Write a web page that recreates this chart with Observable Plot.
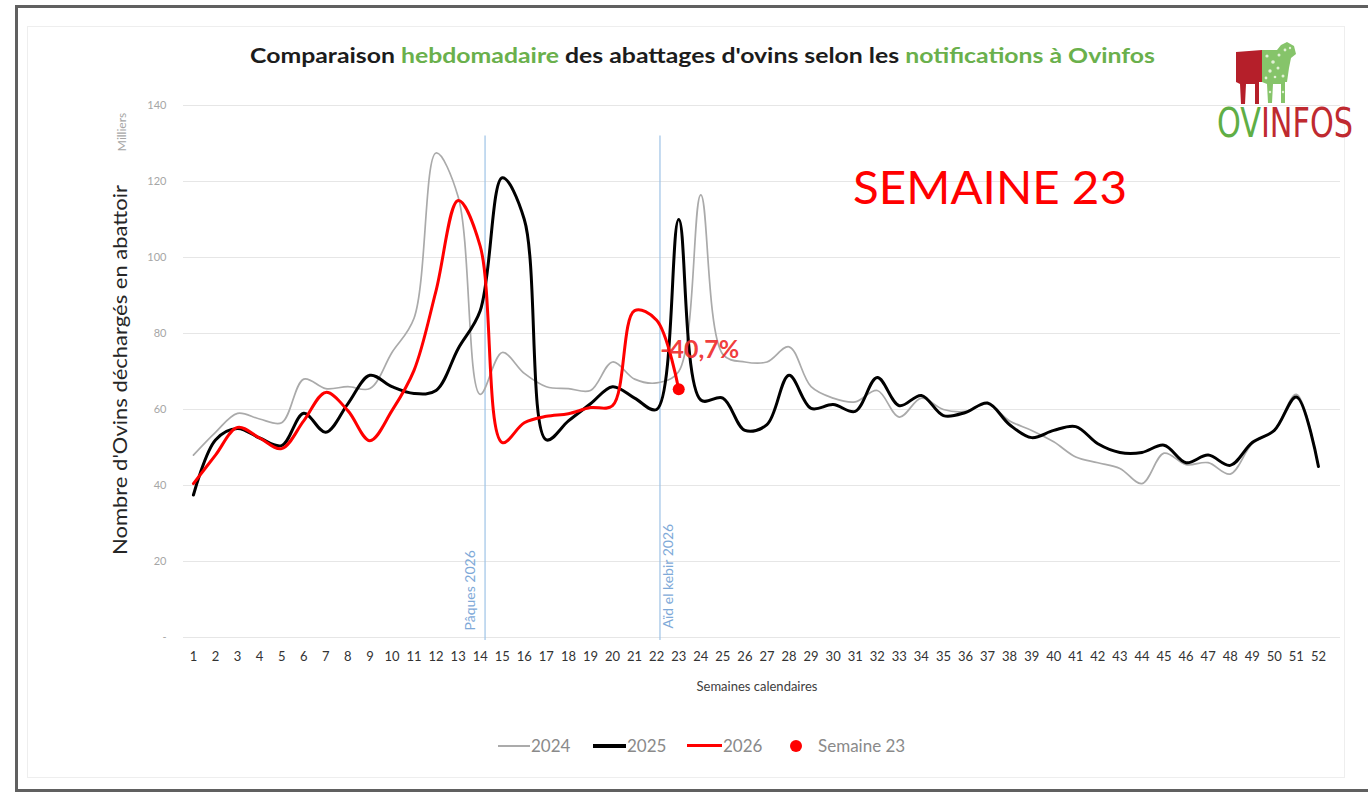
<!DOCTYPE html>
<html>
<head>
<meta charset="utf-8">
<script src="https://cdn.jsdelivr.net/npm/d3@7"></script>
<script src="https://cdn.jsdelivr.net/npm/@observablehq/plot@0.6"></script>
<style>
  html, body { margin: 0; padding: 0; background: #fff; }
  body { font-family: Lato, "Open Sans", sans-serif; }
  #page { position: relative; width: 1368px; height: 795px; overflow: hidden; background: #fff; }
  .frame-outer { position: absolute; left: 15px; top: 5px; width: 1400px; height: 787px; border: 3px solid #606060; box-sizing: border-box; }
  .frame-inner { position: absolute; left: 27px; top: 26px; width: 1318px; height: 752px; border: 1px solid #eeeeee; box-sizing: border-box; }
  #chart { position: absolute; left: 0; top: 0; }
  .abs { position: absolute; white-space: nowrap; }
  .title { left: 250px; top: 42px; font-size: 20px; font-weight: bold; color: #1c1c1c; line-height: 26px; transform-origin: left center; }
  .title .g { color: #6ab04c; }
  .semaine { left: 853px; top: 164px; font-size: 46px; line-height: 1; color: #ff0000; transform-origin: left center; }
  .ytitle { left: 120px; top: 370px; font-size: 19px; color: #262626; line-height: 22px; }
  .milliers { left: 121px; top: 132px; font-size: 12px; color: #a6a6a6; transform: translate(-50%, -50%) rotate(-90deg); }
  .xtitle { left: 757px; top: 686px; font-size: 13px; color: #404040; transform: translate(-50%, -50%); }
  .legend { font-size: 17px; color: #8a8a8a; line-height: 20px; }
  .sw { position: absolute; }
  .logo-text { left: 1217px; top: 103px; font-family: "DejaVu Sans Condensed", "DejaVu Sans", sans-serif; font-size: 40px; line-height: 1; transform-origin: left top; }
  .logo-text .g { color: #5fae45; }
  .logo-text .r { color: #bf2a30; }
</style>
</head>
<body>
<div id="page">
  <div class="frame-outer"></div>
  <div class="frame-inner"></div>
  <div id="chart"></div>

  <div class="abs title" id="title">Comparaison <span class="g">hebdomadaire</span> des abattages d'ovins selon les <span class="g">notifications à Ovinfos</span></div>
  <div class="abs semaine" id="semaine">SEMAINE 23</div>
  <div class="abs ytitle" id="ytitle">Nombre d'Ovins déchargés en abattoir</div>
  <div class="abs milliers">Milliers</div>
  <div class="abs xtitle">Semaines calendaires</div>

  <!-- legend -->
  <div class="sw" style="left:498px; top:745px; width:32px; height:2px; background:#ababab;"></div>
  <div class="abs legend" style="left:531px; top:736px;">2024</div>
  <div class="sw" style="left:593px; top:744px; width:33px; height:4px; background:#000;"></div>
  <div class="abs legend" style="left:627px; top:736px;">2025</div>
  <div class="sw" style="left:687px; top:744px; width:35px; height:3px; background:#ff0000;"></div>
  <div class="abs legend" style="left:723px; top:736px;">2026</div>
  <div class="sw" style="left:790px; top:740px; width:12px; height:12px; border-radius:50%; background:#ff0000;"></div>
  <div class="abs legend" style="left:818px; top:736px;">Semaine 23</div>

  <!-- logo -->
  <svg class="abs" style="left:1215px; top:38px;" width="100" height="72" viewBox="0 0 100 72">
    <path d="M21 14 L47 12 L47 44 L44 44 L44 66 L40 66 L40 46 L31 46 L30 66 L26 66 L25 46 L21 44 Z" fill="#b51f2a"/>
    <path d="M47 12 L62 12 L66 7 L72 4 L79 8 L81 16 L76 20 L74 30 L72 44 L70 44 L70 65 L66 65 L66 46 L58 46 L57 65 L53 65 L52 46 L47 44 Z" fill="#86c46a"/>
    <g fill="#e2f1d6">
      <circle cx="52" cy="18" r="1.6"/><circle cx="58" cy="24" r="1.8"/><circle cx="64" cy="17" r="1.5"/>
      <circle cx="70" cy="12" r="1.4"/><circle cx="55" cy="33" r="1.7"/><circle cx="63" cy="30" r="1.5"/>
      <circle cx="68" cy="38" r="1.5"/><circle cx="51" cy="40" r="1.4"/><circle cx="60" cy="39" r="1.3"/>
      <circle cx="75" cy="10" r="1.2"/><circle cx="68" cy="54" r="1.2"/><circle cx="55" cy="54" r="1.2"/>
    </g>
  </svg>
  <div class="abs logo-text" id="logo"><span class="g">OV</span><span class="r">INFOS</span></div>
</div>

<script>
// ---------- data ----------
const weeks = [1,2,3,4,5,6,7,8,9,10,11,12,13,14,15,16,17,18,19,20,21,22,23,24,25,26,
               27,28,29,30,31,32,33,34,35,36,37,38,39,40,41,42,43,44,45,46,47,48,49,50,51,52];
const weekLabels = ["1","2","3","4","5","6","7","8","9","10","11","12","13","14","15","16","17","18","19","20","21","22","23","24","25","26",
                    "27","28","29","30","31","32","33","34","35","36","37","38","39","40","41","42","43","44","45","46","47","48","49","50","51","52"];

// thousands of sheep per week
const v2024 = [48, 54, 59, 57.5, 56.5, 68, 65.5, 66, 65.5, 75, 84, 127.5, 116, 64, 75, 69.5, 66, 65.5, 65, 72.5, 68, 67, 70, 116.5, 74.5, 72.5,
               72.5, 76.5, 66, 63, 62, 65, 58, 63, 60, 59.5, 61.5, 57, 54.5, 51.5, 47.5, 46, 44.5, 40.5, 48.5, 45.5, 46, 43, 51, 54.5, 64, 45];
const v2025 = [37.5, 52, 55, 52.5, 50.5, 59, 54, 61.5, 69, 66, 64.2, 65, 76, 86, 121, 110, 52, 57, 61.5, 66, 63, 60, 110, 62.5, 63, 54.5,
               56, 69, 60.3, 61.3, 59.5, 68.4, 61, 63.7, 58.4, 59.2, 61.7, 56, 52.6, 54.5, 55.5, 51, 48.7, 48.7, 50.6, 46, 48, 45.3, 51.3, 54.5, 63.3, 45];
const v2026 = [40.5, 48, 55.3, 52.5, 49.7, 57, 64.5, 59.7, 51.8, 59.7, 70.3, 91.3, 115, 103, 51.3, 56.5, 58.2, 58.9, 60.5, 61, 86, 83.5, 65.3];

const yTicks = [0, 20, 40, 60, 80, 100, 120, 140];
const yTickLabels = ["-", "20", "40", "60", "80", "100", "120", "140"];

const eventWeeks = [14.22, 22.15];
const eventLabels = ["Pâques 2026", "Aïd el kebir 2026"];

const highlightWeeks = [23];
const highlightValues = [65.3];
const highlightLabels = ["-40,7%"];

// ---------- tables ----------
const toRows = (vals) => vals.map((v, i) => ({week: weeks[i], value: v}));
const rows2024 = toRows(v2024);
const rows2025 = toRows(v2025);
const rows2026 = toRows(v2026);
const highlight = highlightWeeks.map((w, i) => ({week: w, value: highlightValues[i], label: highlightLabels[i]}));
const events = eventWeeks.map((w, i) => ({week: w, label: eventLabels[i]}));

const chart = Plot.plot({
  width: 1368,
  height: 700,
  marginLeft: 183,
  marginRight: 28,
  marginTop: 105,
  marginBottom: 63,
  style: {fontFamily: "Lato, 'Open Sans', sans-serif", background: "transparent", overflow: "visible"},
  x: {domain: [0.55, 53]},
  y: {domain: [0, 140]},
  marks: [
    Plot.gridY(yTicks, {stroke: "#e6e6e6", strokeOpacity: 1, strokeWidth: 1.2}),
    Plot.axisY(yTicks, {tickSize: 0, tickPadding: 17, fontSize: 11, fill: "#a6a6a6",
                        tickFormat: (d) => yTickLabels[yTicks.indexOf(d)], label: null}),
    Plot.axisX(weeks, {tickSize: 0, tickPadding: 14, fontSize: 13, fill: "#333333",
                       tickFormat: (d) => weekLabels[weeks.indexOf(d)], label: null}),
    Plot.ruleX(events, {x: "week", y1: -0.8, y2: 132, stroke: "#9dc3e6", strokeWidth: 1.2}),
    Plot.text(events.slice(0, 1), {x: "week", y: 0, text: "label", rotate: -90, textAnchor: "start",
                                    dx: -15, dy: -7, fontSize: 14, fill: "#7ea9d8"}),
    Plot.text(events.slice(1, 2), {x: "week", y: 0, text: "label", rotate: -90, textAnchor: "start",
                                    dx: 9, dy: -9, fontSize: 14, fill: "#7ea9d8"}),
    Plot.line(rows2024, {x: "week", y: "value", stroke: "#aaaaaa", strokeWidth: 1.7, curve: "catmull-rom"}),
    Plot.line(rows2025, {x: "week", y: "value", stroke: "#000000", strokeWidth: 3, curve: "catmull-rom"}),
    Plot.line(rows2026, {x: "week", y: "value", stroke: "#ff0000", strokeWidth: 3, curve: "catmull-rom"}),
    Plot.dot(highlight, {x: "week", y: "value", r: 6, fill: "#ff0000", stroke: "none"}),
    Plot.text(highlight, {x: "week", y: "value", text: "label", dx: 21, dy: -39, fontSize: 25,
                          fontWeight: "bold", fill: "#ef2b2b", fillOpacity: 0.92})
  ]
});
document.getElementById("chart").appendChild(chart);

// fit text widths to the reference layout
function fitWidth(id, target) {
  const el = document.getElementById(id);
  const w = el.getBoundingClientRect().width;
  if (w > 0) el.style.transform = `scaleX(${target / w})`;
}
fitWidth("title", 905);
fitWidth("semaine", 274);
fitWidth("logo", 136);

// rotated y title: stretch along its length to the reference extent
(function () {
  const el = document.getElementById("ytitle");
  const w = el.getBoundingClientRect().width;
  const s = w > 0 ? 370 / w : 1;
  el.style.transform = `translate(-50%, -50%) rotate(-90deg) scaleX(${s})`;
})();
</script>
</body>
</html>
